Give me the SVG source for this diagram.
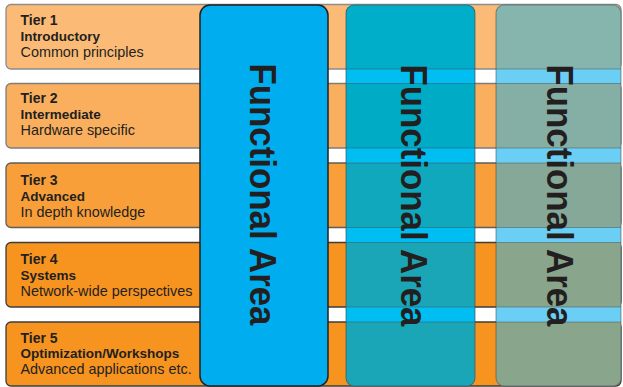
<svg xmlns="http://www.w3.org/2000/svg" width="623" height="387" viewBox="0 0 623 387">
<style>
.t1{font-family:"Liberation Sans",Arial,sans-serif;font-weight:bold;font-size:14px;fill:#231F20}
.t2{font-family:"Liberation Sans",Arial,sans-serif;font-weight:bold;font-size:13.5px;fill:#231F20}
.t3{font-family:"Liberation Sans",Arial,sans-serif;font-size:14.4px;fill:#231F20}
.fa{font-family:"Liberation Sans",Arial,sans-serif;font-weight:bold;font-size:36px;fill:#231F20}
.tier{stroke-width:1.3}
.edge{stroke:#3F4A4E;stroke-opacity:0.45;stroke-width:1.2}
</style>
<defs>
<clipPath id="c2"><rect x="346" y="5" width="129" height="381" rx="8"/></clipPath>
<clipPath id="c3"><rect x="496" y="5" width="125" height="381" rx="8"/></clipPath>
</defs>
<rect width="623" height="387" fill="#FFFFFF"/>
<g id="tier1">
<rect class="tier" x="6" y="4.5" width="615" height="64.5" rx="5" fill="#FBBB77" stroke="#8C8C8C"/>
<text class="t1" x="20.5" y="25">Tier 1</text>
<text class="t2" x="20.5" y="40.5">Introductory</text>
<text class="t3" x="20.5" y="56.5">Common principles</text>
</g>
<g id="tier2">
<rect class="tier" x="6" y="83.5" width="615" height="64.5" rx="5" fill="#FAAF5F" stroke="#7D7D7D"/>
<text class="t1" x="20.5" y="102.5">Tier 2</text>
<text class="t2" x="20.5" y="119">Intermediate</text>
<text class="t3" x="20.5" y="134.5">Hardware specific</text>
</g>
<g id="tier3">
<rect class="tier" x="6" y="163" width="615" height="64.5" rx="5" fill="#F89F3A" stroke="#5E5E5E"/>
<text class="t1" x="20.5" y="185">Tier 3</text>
<text class="t2" x="20.5" y="201">Advanced</text>
<text class="t3" x="20.5" y="216.5">In depth knowledge</text>
</g>
<g id="tier4">
<rect class="tier" x="6" y="242.5" width="615" height="64.5" rx="5" fill="#F7941F" stroke="#3C3C3C"/>
<text class="t1" x="20.5" y="264">Tier 4</text>
<text class="t2" x="20.5" y="280">Systems</text>
<text class="t3" x="20.5" y="296">Network-wide perspectives</text>
</g>
<g id="tier5">
<rect class="tier" x="6" y="322" width="615" height="64" rx="5" fill="#F7941F" stroke="#3C3C3C"/>
<text class="t1" x="20.5" y="342.5">Tier 5</text>
<text class="t2" x="20.5" y="358">Optimization/Workshops</text>
<text class="t3" x="20.5" y="374">Advanced applications etc.</text>
</g>
<g id="area1">
<rect x="200" y="5" width="128" height="381" rx="10" fill="#00AEEF" stroke="#231F20" stroke-width="1.5"/>
<text class="fa" transform="translate(250,194.5) rotate(90)" text-anchor="middle" textLength="262" lengthAdjust="spacingAndGlyphs">Functional Area</text>
</g>
<g id="area2">
<g clip-path="url(#c2)">
<rect x="346" y="0" width="129" height="387" fill="#00BDF2"/>
<rect x="346" y="0" width="129" height="69" fill="#00AEC9"/>
<rect x="346" y="83.5" width="129" height="64.5" fill="#00ABC6"/>
<rect x="346" y="163" width="129" height="64.5" fill="#10A8BD"/>
<rect x="346" y="242.5" width="129" height="64.5" fill="#1BA6B8"/>
<rect x="346" y="322" width="129" height="65" fill="#1BA6B8"/>
<path class="edge" d="M346 69H475M346 83.5H475M346 148H475M346 163H475M346 227.5H475M346 242.5H475M346 307H475M346 322H475"/>
</g>
<rect x="346" y="5" width="129" height="381" rx="8" fill="none" stroke="#3F4A4E" stroke-opacity="0.6" stroke-width="1.1"/>
<text class="fa" transform="translate(401,195.5) rotate(90)" text-anchor="middle" textLength="262" lengthAdjust="spacingAndGlyphs">Functional Area</text>
</g>
<g id="area3">
<g clip-path="url(#c3)">
<rect x="496" y="0" width="125" height="387" fill="#6BCEF4"/>
<rect x="496" y="0" width="125" height="69" fill="#85B5AD"/>
<rect x="496" y="83.5" width="125" height="64.5" fill="#85AEA5"/>
<rect x="496" y="163" width="125" height="64.5" fill="#86A898"/>
<rect x="496" y="242.5" width="125" height="64.5" fill="#89A58B"/>
<rect x="496" y="322" width="125" height="65" fill="#89A58B"/>
<path class="edge" d="M496 69H621M496 83.5H621M496 148H621M496 163H621M496 227.5H621M496 242.5H621M496 307H621M496 322H621"/>
</g>
<rect x="496" y="5" width="125" height="381" rx="8" fill="none" stroke="#3F4A4E" stroke-opacity="0.5" stroke-width="1.1"/>
<text class="fa" transform="translate(547,195.5) rotate(90)" text-anchor="middle" textLength="262" lengthAdjust="spacingAndGlyphs">Functional Area</text>
</g>
</svg>
